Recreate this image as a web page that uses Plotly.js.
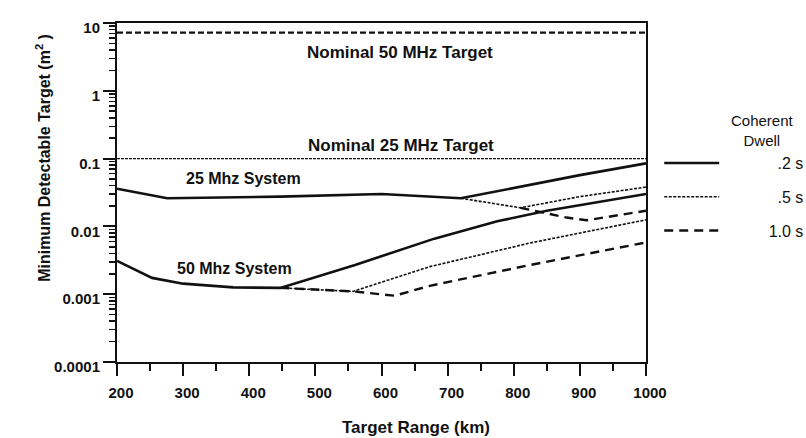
<!DOCTYPE html>
<html>
<head>
<meta charset="utf-8">
<script src="https://cdn.plot.ly/plotly-3.0.1.min.js"></script>
<style>html,body{margin:0;padding:0;background:#fff;}#chart{width:806px;height:438px;}</style>
</head>
<body>
<div id="chart"></div>
<script>
// ---- Data (Target Range in km, Minimum Detectable Target in m^2) ----
const nominalRange = [200, 1000];
const nominal50 = [7.2, 7.2];
const nominal25 = [0.1, 0.1];

// 25 MHz system
const km25_02 = [200, 276, 447, 600, 720, 825, 900, 1000];
const mdt25_02 = [0.036, 0.026, 0.0275, 0.030, 0.026, 0.041, 0.057, 0.085];
const km25_05 = [720, 810, 900, 1000];
const mdt25_05 = [0.026, 0.0188, 0.0275, 0.038];
const km25_10 = [810, 880, 910, 1000];
const mdt25_10 = [0.0188, 0.0135, 0.0123, 0.017];

// 50 MHz system
const km50_02 = [200, 253, 300, 376, 447, 560, 680, 775, 850, 1000];
const mdt50_02 = [0.0031, 0.00174, 0.00143, 0.00126, 0.00124, 0.0027, 0.0066, 0.0119, 0.017, 0.030];
const km50_05 = [447, 557, 673, 825, 1000];
const mdt50_05 = [0.00124, 0.0011, 0.00255, 0.0057, 0.0125];
const km50_10 = [447, 557, 620, 673, 825, 1000];
const mdt50_10 = [0.00124, 0.0011, 0.00095, 0.00133, 0.0027, 0.0058];

const xTicks = [200, 300, 400, 500, 600, 700, 800, 900, 1000];
const yTicks = [0.0001, 0.001, 0.01, 0.1, 1, 10];
const yTickText = ['0.0001', '0.001', '0.01', '0.1', '1', '10'];
const dwellNames = ['.2 s', '.5 s', '1.0 s'];
const legendTitle = 'Coherent<br>Dwell';

// ---- styles ----
const INK = '#111';
const FONT = 'Liberation Sans, Arial, Helvetica, sans-serif';
const styles = {
  s02: {color: INK, width: 2.6, dash: 'solid'},
  s05: {color: INK, width: 1.6, dash: '3px,1.5px'},
  s10: {color: INK, width: 2.4, dash: '9px,6px'}
};
const pad = n => '\u00a0'.repeat(n);

// minor log ticks 2..9 per decade
const minorVals = [];
for (let e = -4; e < 1; e++) for (let d = 2; d <= 9; d++) minorVals.push(d * Math.pow(10, e));

const traces = [
  {x: nominalRange, y: nominal50, mode: 'lines', line: {color: INK, width: 2.4, dash: '6px,3px'}, showlegend: false, hoverinfo: 'skip'},
  {x: nominalRange, y: nominal25, mode: 'lines', line: {color: INK, width: 1.3, dash: '3px,1px'}, showlegend: false, hoverinfo: 'skip'},
  {x: km25_02, y: mdt25_02, mode: 'lines', line: styles.s02, name: pad(12) + dwellNames[0], legendgroup: 'g1', showlegend: true},
  {x: km25_05, y: mdt25_05, mode: 'lines', line: styles.s05, name: pad(12) + dwellNames[1], legendgroup: 'g2', showlegend: true},
  {x: km25_10, y: mdt25_10, mode: 'lines', line: styles.s10, name: pad(10) + dwellNames[2], legendgroup: 'g3', showlegend: true},
  {x: km50_02, y: mdt50_02, mode: 'lines', line: styles.s02, legendgroup: 'g1', showlegend: false},
  {x: km50_05, y: mdt50_05, mode: 'lines', line: styles.s05, legendgroup: 'g2', showlegend: false},
  {x: km50_10, y: mdt50_10, mode: 'lines', line: styles.s10, legendgroup: 'g3', showlegend: false}
];

const boldFont = (s) => ({family: FONT, size: s, color: INK, weight: 'bold'});
const ann = (x, y, text, font, extra) => Object.assign({xref: 'paper', yref: 'paper', x: x, y: y, text: text, showarrow: false, xanchor: 'center', yanchor: 'middle', font: font}, extra || {});

const layout = {
  width: 806, height: 438,
  margin: {l: 117, r: 160, t: 23, b: 76, autoexpand: false},
  paper_bgcolor: '#fff', plot_bgcolor: '#fff',
  font: {family: FONT, color: INK},
  xaxis: {
    type: 'linear', range: [200, 1000],
    tickvals: xTicks, ticktext: xTicks.map(String),
    ticks: 'outside', ticklen: 12, tickwidth: 2, tickcolor: INK,
    minor: {tickvals: [250, 350, 450, 550, 650, 750, 850, 950], ticks: 'outside', ticklen: 7, tickwidth: 2, tickcolor: INK, showgrid: false},
    showline: true, linecolor: INK, linewidth: 2, mirror: true,
    showgrid: false, zeroline: false,
    tickfont: boldFont(15), ticklabelstandoff: 4, ticklabelshift: 4
  },
  yaxis: {
    type: 'log', range: [-4, 1],
    tickvals: yTicks, ticktext: yTickText,
    ticks: 'outside', ticklen: 12, tickwidth: 2, tickcolor: INK,
    minor: {tickvals: minorVals, ticks: 'outside', ticklen: 6, tickwidth: 1.5, tickcolor: INK, showgrid: false},
    showline: true, linecolor: INK, linewidth: 2, mirror: true,
    showgrid: false, zeroline: false,
    tickfont: boldFont(15), ticklabelshift: 5
  },
  legend: {
    x: 1.025, y: 0.637, xanchor: 'left', yanchor: 'top',
    bgcolor: 'rgba(0,0,0,0)', borderwidth: 0,
    font: {family: FONT, size: 16, color: INK},
    tracegroupgap: 10, itemwidth: 55, traceorder: 'grouped'
  },
  annotations: [
    ann(0.535, 0.912, 'Nominal 50 MHz Target', boldFont(17)),
    ann(0.537, 0.640, 'Nominal 25 MHz Target', boldFont(17)),
    ann(0.240, 0.540, '25 Mhz System', boldFont(16)),
    ann(0.223, 0.277, '50 Mhz System', boldFont(16)),
    ann(0.565, -0.192, 'Target Range (km)', boldFont(17)),
    ann(-0.14, 0.602, 'Minimum Detectable Target (m<sup>2</sup> )', boldFont(16), {textangle: -90}),
    ann(1.221, 0.682, legendTitle, {family: FONT, size: 15, color: INK}, {align: 'center'})
  ],
  showlegend: true
};

Plotly.newPlot('chart', traces, layout, {staticPlot: true, displayModeBar: false});
</script>
</body>
</html>
